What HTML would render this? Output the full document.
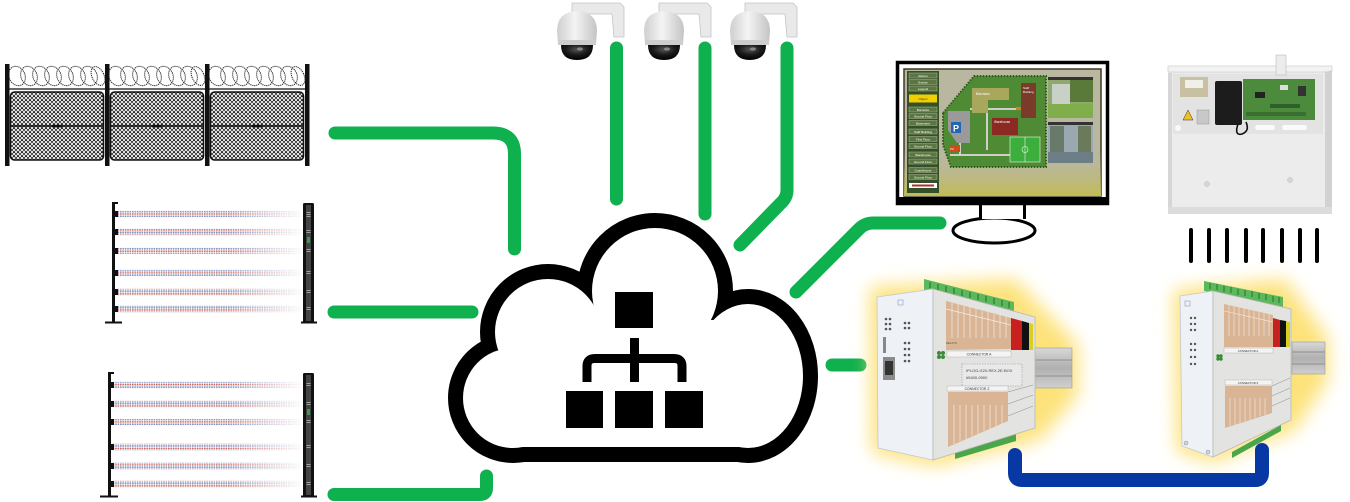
<!DOCTYPE html>
<html><head><meta charset="utf-8"><style>
html,body{margin:0;padding:0;background:#fff;}
svg{display:block;}
</style></head><body>
<svg width="1350" height="502" viewBox="0 0 1350 502" xmlns="http://www.w3.org/2000/svg" xmlns:xlink="http://www.w3.org/1999/xlink" font-family="Liberation Sans, sans-serif">
<defs>
 <pattern id="mesh" patternUnits="userSpaceOnUse" width="4" height="4">
  <path d="M0 2L2 0L4 2L2 4Z" fill="none" stroke="#111" stroke-width="0.75"/>
 </pattern>
 <pattern id="beamp" patternUnits="userSpaceOnUse" width="2.4" height="6.4">
  <rect x="0" y="0" width="1.6" height="0.9" fill="#c4574f"/>
  <rect x="0" y="1.6" width="1.6" height="0.9" fill="#5670b0"/>
  <rect x="0" y="3.2" width="1.6" height="0.9" fill="#c4574f"/>
  <rect x="0" y="4.8" width="1.6" height="0.9" fill="#5670b0"/>
 </pattern>
 <linearGradient id="fadeg1" gradientUnits="userSpaceOnUse" x1="115" y1="0" x2="305" y2="0">
  <stop offset="0" stop-color="#fff"/><stop offset="0.6" stop-color="#fff"/><stop offset="1" stop-color="#000"/>
 </linearGradient>
 <mask id="fadem" maskUnits="userSpaceOnUse" x="0" y="0" width="1350" height="502">
  <rect x="0" y="0" width="1350" height="502" fill="url(#fadeg1)"/>
 </mask>
 <linearGradient id="dome" x1="0" y1="0" x2="1" y2="0">
  <stop offset="0" stop-color="#cfcfcf"/><stop offset="0.45" stop-color="#f4f4f4"/><stop offset="1" stop-color="#c4c4c4"/>
 </linearGradient>
 <radialGradient id="lens" cx="0.5" cy="0.3" r="0.7">
  <stop offset="0" stop-color="#555"/><stop offset="0.5" stop-color="#1a1a1a"/><stop offset="1" stop-color="#000"/>
 </radialGradient>
 <linearGradient id="scrbot" x1="0" y1="0" x2="0" y2="1">
  <stop offset="0" stop-color="#b9b79f" stop-opacity="0"/><stop offset="1" stop-color="#c2bc50"/>
 </linearGradient>
 <linearGradient id="rail" x1="0" y1="0" x2="0" y2="1">
  <stop offset="0" stop-color="#d8d8d8"/><stop offset="0.5" stop-color="#b0b0b0"/><stop offset="1" stop-color="#d0d0d0"/>
 </linearGradient>
 <filter id="glow" x="-40%" y="-40%" width="180%" height="180%">
  <feGaussianBlur stdDeviation="9"/>
 </filter>
 <g id="razor" fill="none" stroke="#333" stroke-width="1.1" stroke-dasharray="1.2 0.8">
  <ellipse cx="17" cy="76" rx="8" ry="10" transform="rotate(-25 17 76)"/>
  <ellipse cx="29" cy="76" rx="8" ry="10" transform="rotate(-25 29 76)"/>
  <ellipse cx="41" cy="76" rx="8" ry="10" transform="rotate(-25 41 76)"/>
  <ellipse cx="53" cy="76" rx="8" ry="10" transform="rotate(-25 53 76)"/>
  <ellipse cx="65" cy="76" rx="8" ry="10" transform="rotate(-25 65 76)"/>
  <ellipse cx="77" cy="76" rx="8" ry="10" transform="rotate(-25 77 76)"/>
  <ellipse cx="89" cy="76" rx="8" ry="10" transform="rotate(-25 89 76)"/>
  <ellipse cx="98" cy="76" rx="6" ry="10" transform="rotate(-25 98 76)"/>
 </g>
 <g id="panel">
  <rect x="10.5" y="92" width="93" height="68" rx="4" fill="url(#mesh)" stroke="#111" stroke-width="1.6"/>
  <line x1="10.5" y1="126" x2="103.5" y2="126" stroke="#111" stroke-width="1.4"/>
  <rect x="52" y="124.8" width="10" height="2.6" fill="#111"/>
 </g>
 <g id="cam">
  <path d="M572 3 H620 L624 7 V37 H614 L612 14 H572 Z" fill="#e9e9e9" stroke="#c4c4c4" stroke-width="0.8"/>
  <path d="M557 31 Q557 12 577 11 Q597 12 597 31 L596 44 H558 Z" fill="url(#dome)"/>
  <rect x="558" y="40" width="38" height="5" fill="#cdcdcd"/>
  <path d="M561 45 Q561 60 577 60 Q593 60 593 45 Z" fill="url(#lens)"/>
  <ellipse cx="580" cy="49" rx="3" ry="1.6" fill="#9aa" opacity="0.7"/>
 </g>
</defs>

<!-- FENCE -->
<use xlink:href="#razor"/>
<use xlink:href="#razor" x="100"/>
<use xlink:href="#razor" x="200"/>
<line x1="7" y1="89" x2="307" y2="89" stroke="#111" stroke-width="1.3"/>
<use xlink:href="#panel"/>
<use xlink:href="#panel" x="100"/>
<use xlink:href="#panel" x="200"/>
<rect x="5" y="64" width="4.5" height="102" fill="#111"/>
<rect x="105" y="64" width="4.5" height="102" fill="#111"/>
<rect x="205" y="64" width="4.5" height="102" fill="#111"/>
<rect x="305" y="64" width="4.5" height="102" fill="#111"/>

<!-- BEAMS -->
<g mask="url(#fadem)">
 <rect x="117" y="210.8" width="188" height="6.4" fill="url(#beamp)"/>
 <rect x="117" y="228.8" width="188" height="6.4" fill="url(#beamp)"/>
 <rect x="117" y="247.8" width="188" height="6.4" fill="url(#beamp)"/>
 <rect x="117" y="269.8" width="188" height="6.4" fill="url(#beamp)"/>
 <rect x="117" y="288.8" width="188" height="6.4" fill="url(#beamp)"/>
 <rect x="117" y="305.8" width="188" height="6.4" fill="url(#beamp)"/>
 <rect x="112" y="381.8" width="193" height="6.4" fill="url(#beamp)"/>
 <rect x="112" y="400.8" width="193" height="6.4" fill="url(#beamp)"/>
 <rect x="112" y="418.8" width="193" height="6.4" fill="url(#beamp)"/>
 <rect x="112" y="443.8" width="193" height="6.4" fill="url(#beamp)"/>
 <rect x="112" y="462.8" width="193" height="6.4" fill="url(#beamp)"/>
 <rect x="112" y="480.8" width="193" height="6.4" fill="url(#beamp)"/>
</g>
<g fill="#111">
 <rect x="112" y="203" width="3" height="120"/>
 <rect x="112" y="202" width="6" height="2"/>
 <rect x="105" y="321.5" width="17" height="2"/>
 <rect x="113" y="211" width="5" height="6"/><rect x="113" y="229" width="5" height="6"/><rect x="113" y="248" width="5" height="6"/>
 <rect x="113" y="270" width="5" height="6"/><rect x="113" y="289" width="5" height="6"/><rect x="113" y="306" width="5" height="6"/>
 <rect x="303" y="203" width="11" height="120" rx="1.5"/>
 <rect x="301" y="321.5" width="16" height="2"/>
 <rect x="108" y="373" width="3" height="124"/>
 <rect x="108" y="372" width="6" height="2"/>
 <rect x="100" y="495.5" width="18" height="2"/>
 <rect x="109" y="382" width="5" height="6"/><rect x="109" y="401" width="5" height="6"/><rect x="109" y="419" width="5" height="6"/>
 <rect x="109" y="444" width="5" height="6"/><rect x="109" y="463" width="5" height="6"/><rect x="109" y="481" width="5" height="6"/>
 <rect x="303" y="373" width="11" height="124" rx="1.5"/>
 <rect x="301" y="495.5" width="16" height="2"/>
</g>
<g fill="#444">
 <rect x="306" y="205" width="5" height="116"/>
 <rect x="306" y="375" width="5" height="120"/>
</g>
<g fill="#aaa">
 <rect x="306.5" y="212" width="4" height="0.9"/><rect x="306.5" y="214" width="4" height="0.9"/><rect x="306.5" y="216" width="4" height="0.9"/>
 <rect x="306.5" y="230" width="4" height="0.9"/><rect x="306.5" y="232" width="4" height="0.9"/>
 <rect x="306.5" y="249" width="4" height="0.9"/><rect x="306.5" y="251" width="4" height="0.9"/>
 <rect x="306.5" y="271" width="4" height="0.9"/><rect x="306.5" y="273" width="4" height="0.9"/>
 <rect x="306.5" y="290" width="4" height="0.9"/><rect x="306.5" y="292" width="4" height="0.9"/>
 <rect x="306.5" y="307" width="4" height="0.9"/><rect x="306.5" y="309" width="4" height="0.9"/>
 <rect x="306.5" y="383" width="4" height="0.9"/><rect x="306.5" y="385" width="4" height="0.9"/>
 <rect x="306.5" y="402" width="4" height="0.9"/><rect x="306.5" y="404" width="4" height="0.9"/>
 <rect x="306.5" y="420" width="4" height="0.9"/><rect x="306.5" y="422" width="4" height="0.9"/>
 <rect x="306.5" y="445" width="4" height="0.9"/><rect x="306.5" y="447" width="4" height="0.9"/>
 <rect x="306.5" y="464" width="4" height="0.9"/><rect x="306.5" y="466" width="4" height="0.9"/>
 <rect x="306.5" y="482" width="4" height="0.9"/><rect x="306.5" y="484" width="4" height="0.9"/>
</g>
<rect x="307" y="237" width="3" height="6" fill="#3a9a4a"/>
<rect x="307" y="409" width="3" height="6" fill="#3a9a4a"/>

<!-- CAMERAS -->
<use xlink:href="#cam"/>
<use xlink:href="#cam" x="87"/>
<use xlink:href="#cam" x="173"/>

<!-- GREEN CONNECTORS -->
<g fill="none" stroke="#0fb04e" stroke-width="13" stroke-linecap="round" stroke-linejoin="round">
 <path d="M335 133 H493 Q514.5 133 514.5 154 V249"/>
 <path d="M334 312 H472"/>
 <path d="M334 494.5 H480 Q486.5 494.5 486.5 488 V476"/>
 <path d="M616.5 48 V199"/>
 <path d="M705 48 V214"/>
 <path d="M787 48 V190 Q787 197 782 202 L740 245"/>
 <path d="M796 292 L859 229 Q865 223 873 223 H940"/>
 <path d="M832 365 H860"/>
</g>

<!-- CLOUD -->
<g stroke="#000" stroke-width="30" fill="#fff">
 <circle cx="513" cy="398" r="50"/>
 <circle cx="548" cy="332" r="53"/>
 <circle cx="655" cy="291" r="63"/>
 <ellipse cx="748" cy="376" rx="55" ry="72"/>
</g>
<rect x="513" y="447" width="235" height="15" fill="#000"/>
<g fill="#fff">
 <circle cx="513" cy="398" r="50"/>
 <circle cx="548" cy="332" r="53"/>
 <circle cx="655" cy="291" r="63"/>
 <ellipse cx="748" cy="376" rx="55" ry="72"/>
 <rect x="513" y="320" width="235" height="127"/>
</g>
<g fill="#000">
 <rect x="615" y="292" width="38" height="36"/>
 <rect x="630" y="338" width="9" height="44"/>
 <rect x="566" y="391" width="37" height="37"/>
 <rect x="615" y="391" width="38" height="37"/>
 <rect x="665" y="391" width="38" height="37"/>
</g>
<path d="M587 382 V366 Q587 358.5 595 358.5 H674 Q682 358.5 682 366 V382" fill="none" stroke="#000" stroke-width="9"/>

<!-- MONITOR -->
<ellipse cx="994" cy="230.5" rx="41" ry="12.5" fill="#fff" stroke="#000" stroke-width="3"/>
<rect x="981" y="203" width="43" height="16" fill="#fff"/>
<line x1="980.5" y1="203" x2="980.5" y2="219" stroke="#000" stroke-width="3"/>
<line x1="1024.5" y1="203" x2="1024.5" y2="219" stroke="#000" stroke-width="3"/>
<rect x="897.5" y="62.5" width="210" height="141" fill="#fff" stroke="#000" stroke-width="3.5"/>
<rect x="899" y="197" width="207" height="6" fill="#000"/>
<rect x="904" y="69" width="197" height="127" fill="#b9b79f" stroke="#3c3c22" stroke-width="1.5"/>
<rect x="904" y="150" width="197" height="46" fill="url(#scrbot)"/>
<rect x="907" y="71" width="32" height="122" fill="#34502a"/>
<g fill="#5b7640" stroke="#c8d0b0" stroke-width="0.4">
 <rect x="909" y="73" width="28" height="5"/>
 <rect x="909" y="79.5" width="28" height="5"/>
 <rect x="909" y="86" width="28" height="5"/>
 <rect x="909" y="107" width="28" height="5"/>
 <rect x="909" y="113.5" width="28" height="5"/>
 <rect x="909" y="120.5" width="28" height="5"/>
 <rect x="909" y="129" width="28" height="5"/>
 <rect x="909" y="136.5" width="28" height="5"/>
 <rect x="909" y="143.5" width="28" height="5"/>
 <rect x="909" y="152" width="28" height="5"/>
 <rect x="909" y="159" width="28" height="5"/>
 <rect x="909" y="167.5" width="28" height="5"/>
 <rect x="909" y="174.5" width="28" height="5"/>
</g>
<rect x="909" y="94.5" width="28" height="8" fill="#f2d000"/>
<rect x="909" y="183" width="28" height="5" fill="#fff"/>
<rect x="912" y="184.5" width="22" height="2" fill="#b03030"/>
<g font-size="3.1" fill="#fff" text-anchor="middle">
 <text x="923" y="76.9">Alarms</text>
 <text x="923" y="83.4">Events</text>
 <text x="923" y="89.9">Legend</text>
 <text x="923" y="100" fill="#333">Object</text>
 <text x="923" y="110.9">Barracks</text>
 <text x="923" y="117.4">Ground Floor</text>
 <text x="923" y="124.4">Basement</text>
 <text x="923" y="132.9">Staff Building</text>
 <text x="923" y="140.4">First Floor</text>
 <text x="923" y="147.4">Ground Floor</text>
 <text x="923" y="155.9">Warehouse</text>
 <text x="923" y="162.9">Ground Floor</text>
 <text x="923" y="171.4">Guardhouse</text>
 <text x="923" y="178.4">Ground Floor</text>
</g>
<polygon points="943,113 974,76 1046,76 1046,167 951,167 943,145" fill="#4f8a34" stroke="#2e5a1e" stroke-width="2" stroke-dasharray="1.5 1.5"/>
<polygon points="948,111 970,111 970,143 957,143 948,130" fill="#9a9a9a"/>
<g stroke="#cfcfc6" stroke-width="2" fill="none">
 <path d="M970 109 H1030"/><path d="M987 109 V150"/><path d="M950 155 H1010"/><path d="M1030 100 V116"/><path d="M960 143 V155"/>
</g>
<path d="M972 88 H1009 V100 H988 V113 H972 Z" fill="#a8a75c"/>
<text x="976" y="95" font-size="3.5" fill="#fff">Barracks</text>
<rect x="1021" y="83" width="15" height="35" fill="#7a3b2b"/>
<text x="1023" y="89" font-size="3" fill="#fff">Staff</text>
<text x="1023" y="93" font-size="3" fill="#fff">Building</text>
<rect x="992" y="118" width="26" height="17" fill="#8b2a22"/>
<text x="994" y="123" font-size="3.2" fill="#fff">Warehouse</text>
<rect x="1016" y="107" width="5" height="3" fill="#e07a20"/>
<rect x="951" y="122" width="10" height="11" fill="#2466b0"/>
<text x="956" y="131.5" font-size="9" font-weight="bold" fill="#fff" text-anchor="middle">P</text>
<rect x="949" y="145" width="11" height="7" fill="#d24a1c"/>
<text x="950" y="150" font-size="3" fill="#fff">PC</text>
<rect x="1010" y="137" width="30" height="25" fill="#3cae3c" stroke="#e8f8e8" stroke-width="0.6"/>
<line x1="1025" y1="137" x2="1025" y2="162" stroke="#e8f8e8" stroke-width="0.6"/>
<circle cx="1025" cy="149.5" r="3" fill="none" stroke="#e8f8e8" stroke-width="0.6"/>
<rect x="1048" y="77" width="45" height="41" fill="#8ea870"/>
<rect x="1048" y="77" width="45" height="3" fill="#333"/>
<rect x="1052" y="84" width="18" height="20" fill="#c8d0c8"/>
<rect x="1070" y="80" width="23" height="22" fill="#5a7a3a"/>
<rect x="1048" y="104" width="45" height="14" fill="#7fae4a"/>
<rect x="1048" y="122" width="45" height="41" fill="#9aa8b2"/>
<rect x="1048" y="122" width="45" height="3" fill="#333"/>
<rect x="1050" y="126" width="14" height="30" fill="#6a7a6a"/>
<rect x="1078" y="126" width="13" height="30" fill="#6a7a5a"/>
<rect x="1048" y="152" width="45" height="11" fill="#6e7e86"/>

<!-- CONTROLLER BOX -->
<rect x="1168" y="67" width="158" height="147" fill="#ececec"/>
<rect x="1173" y="74" width="150" height="60" fill="#e3e3e3"/>
<rect x="1168" y="73" width="4" height="135" fill="#d6d6d6"/>
<rect x="1168" y="66" width="164" height="6" fill="#f3f3f3" stroke="#c8c8c8" stroke-width="0.6"/>
<polygon points="1325,72 1332,70 1332,212 1325,208" fill="#d2d2d2"/>
<rect x="1168" y="207" width="164" height="7" fill="#dcdcdc"/>
<rect x="1276" y="55" width="10" height="20" fill="#ececec" stroke="#bbb" stroke-width="0.6"/>
<rect x="1180" y="77" width="28" height="20" fill="#c8c0a0"/>
<rect x="1185" y="80" width="18" height="8" fill="#f0f0e8"/>
<rect x="1215" y="81" width="27" height="44" rx="2" fill="#1c1c1c"/>
<rect x="1243" y="79" width="72" height="41" fill="#4b8b3b"/>
<rect x="1255" y="92" width="10" height="6" fill="#222"/>
<rect x="1280" y="85" width="8" height="5" fill="#ddd"/>
<rect x="1298" y="86" width="8" height="10" fill="#333"/>
<rect x="1270" y="104" width="30" height="4" fill="#2f5f2a"/>
<rect x="1246" y="112" width="60" height="4" fill="#3a6e32"/>
<path d="M1238 124 Q1234 136 1242 134 Q1250 131 1246 122" stroke="#111" stroke-width="1.6" fill="none"/>
<polygon points="1188,110 1183,120 1193,120" fill="#f0c020" stroke="#333" stroke-width="0.5"/>
<rect x="1197" y="110" width="12" height="14" fill="#c8c8c8" stroke="#999" stroke-width="0.5"/>
<circle cx="1178" cy="128" r="3" fill="#fafafa"/>
<rect x="1255" y="125" width="20" height="5" rx="2.5" fill="#fafafa"/>
<rect x="1282" y="125" width="25" height="5" rx="2.5" fill="#fafafa"/>
<circle cx="1207" cy="184" r="2.5" fill="#d6d6d6" stroke="#bbb" stroke-width="0.5"/>
<circle cx="1290" cy="180" r="2.5" fill="#d6d6d6" stroke="#bbb" stroke-width="0.5"/>

<!-- BLACK TICKS -->
<g stroke="#000" stroke-width="4" stroke-linecap="round">
 <line x1="1191" y1="230" x2="1191" y2="261"/>
 <line x1="1209" y1="230" x2="1209" y2="261"/>
 <line x1="1227" y1="230" x2="1227" y2="261"/>
 <line x1="1246" y1="230" x2="1246" y2="261"/>
 <line x1="1263" y1="230" x2="1263" y2="261"/>
 <line x1="1282" y1="230" x2="1282" y2="261"/>
 <line x1="1300" y1="230" x2="1300" y2="261"/>
 <line x1="1317" y1="230" x2="1317" y2="261"/>
</g>

<!-- DEVICE GLOWS -->
<polygon points="870,287 1015,279 1078,345 1078,395 1040,440 935,466 872,453" fill="#fde27a" filter="url(#glow)"/>
<polygon points="1174,290 1285,279 1328,338 1328,380 1295,430 1215,462 1177,452" fill="#fde27a" filter="url(#glow)"/>

<!-- DEVICE 1 -->
<rect x="1030" y="348" width="42" height="40" fill="url(#rail)" stroke="#999" stroke-width="0.6"/>
<line x1="1035" y1="360" x2="1072" y2="360" stroke="#8e8e8e" stroke-width="1"/>
<line x1="1035" y1="376" x2="1072" y2="376" stroke="#8e8e8e" stroke-width="1"/>
<polygon points="924,279 1014,302 1014,313 924,290" fill="#5cb85c"/>
<g stroke="#2d7a2d" stroke-width="1.2">
 <line x1="930" y1="282" x2="930" y2="288"/><line x1="938" y1="284" x2="938" y2="290"/><line x1="946" y1="286" x2="946" y2="292"/>
 <line x1="954" y1="288" x2="954" y2="294"/><line x1="962" y1="290" x2="962" y2="296"/><line x1="970" y1="292" x2="970" y2="298"/>
 <line x1="978" y1="294" x2="978" y2="300"/><line x1="986" y1="296" x2="986" y2="302"/><line x1="994" y1="298" x2="994" y2="304"/>
 <line x1="1002" y1="300" x2="1002" y2="306"/><line x1="1009" y1="302" x2="1009" y2="308"/>
</g>
<polygon points="955,452 1016,434 1016,441 955,459" fill="#4aa64a"/>
<polygon points="877,297 933,289 933,460 878,448" fill="#eef1f6" stroke="#c4c9d0" stroke-width="0.8"/>
<polygon points="933,289 1035,317 1035,428 933,460" fill="#e3e3e1" stroke="#b8b8b8" stroke-width="0.8"/>
<polygon points="946,301 1011,318 1011,349 946,350" fill="#d9b596"/>
<g stroke="#f4ece4" stroke-width="0.7">
 <line x1="946" y1="309" x2="1011" y2="325"/>
 <line x1="952" y1="303" x2="952" y2="338"/><line x1="958" y1="304" x2="958" y2="338"/><line x1="964" y1="306" x2="964" y2="338"/>
 <line x1="970" y1="307" x2="970" y2="338"/><line x1="976" y1="309" x2="976" y2="338"/><line x1="982" y1="311" x2="982" y2="338"/>
 <line x1="988" y1="312" x2="988" y2="338"/><line x1="994" y1="314" x2="994" y2="338"/><line x1="1000" y1="315" x2="1000" y2="338"/>
 <line x1="1006" y1="317" x2="1006" y2="338"/>
</g>
<polygon points="1011,318 1022,321 1022,350 1011,350" fill="#c8201e"/>
<polygon points="1022,321 1029,323 1029,350 1022,350" fill="#111"/>
<polygon points="1029,323 1033,324 1033,350 1029,350" fill="#d8d020"/>
<rect x="947" y="351" width="64" height="6" fill="#f4f4f4" stroke="#aaa" stroke-width="0.4"/>
<text x="979" y="355.6" font-size="3.4" fill="#333" text-anchor="middle">CONNECTOR A</text>
<text x="946" y="344" font-size="2.8" fill="#553">RELAYS</text>
<rect x="962" y="364" width="60" height="22" fill="#e9e9e9" stroke="#999" stroke-width="0.6" stroke-dasharray="1.5 1"/>
<text x="966" y="372" font-size="4" fill="#444">IPLOG-G20-REX.2E-BOX</text>
<text x="966" y="379" font-size="4" fill="#444">#5400-0900</text>
<rect x="947" y="386" width="61" height="5" fill="#f4f4f4" stroke="#aaa" stroke-width="0.4"/>
<text x="977" y="390" font-size="3.4" fill="#333" text-anchor="middle">CONNECTOR Z</text>
<polygon points="948,392 1008,392 1008,421 948,447" fill="#d9b596"/>
<g stroke="#f4ece4" stroke-width="0.7">
 <line x1="954" y1="405" x2="954" y2="444"/><line x1="960" y1="405" x2="960" y2="441"/><line x1="966" y1="405" x2="966" y2="439"/>
 <line x1="972" y1="405" x2="972" y2="436"/><line x1="978" y1="405" x2="978" y2="434"/><line x1="984" y1="405" x2="984" y2="431"/>
 <line x1="990" y1="405" x2="990" y2="429"/><line x1="996" y1="405" x2="996" y2="426"/><line x1="1002" y1="405" x2="1002" y2="424"/>
</g>
<path d="M1008 392 L1033 385 M1008 404 L1033 395 M1008 416 L1033 406" stroke="#888" stroke-width="0.5"/>
<g fill="#3a8a3a"><circle cx="939" cy="353" r="2"/><circle cx="943" cy="353" r="2"/><circle cx="939" cy="357" r="2"/><circle cx="943" cy="357" r="2"/></g>
<g fill="#555">
 <circle cx="886" cy="319" r="1.3"/><circle cx="890" cy="319" r="1.3"/>
 <circle cx="886" cy="324" r="1.3"/><circle cx="890" cy="324" r="1.3"/>
 <circle cx="886" cy="329" r="1.3"/><circle cx="890" cy="329" r="1.3"/>
 <circle cx="905" cy="323" r="1.3"/><circle cx="909" cy="323" r="1.3"/>
 <circle cx="905" cy="328" r="1.3"/><circle cx="909" cy="328" r="1.3"/>
 <circle cx="905" cy="343" r="1.3"/><circle cx="909" cy="343" r="1.3"/>
 <circle cx="905" cy="349" r="1.3"/><circle cx="909" cy="349" r="1.3"/>
 <circle cx="905" cy="355" r="1.3"/><circle cx="909" cy="355" r="1.3"/>
 <circle cx="905" cy="361" r="1.3"/><circle cx="909" cy="361" r="1.3"/>
</g>
<rect x="883" y="337" width="3" height="16" fill="#888"/>
<rect x="883" y="357" width="12" height="23" fill="#8a8a8a"/>
<rect x="885" y="361" width="8" height="14" fill="#333"/>
<rect x="898" y="300" width="5" height="5" fill="none" stroke="#8aa0c8" stroke-width="0.6"/>

<!-- DEVICE 2 -->
<rect x="1292" y="342" width="33" height="32" fill="url(#rail)" stroke="#999" stroke-width="0.6"/>
<line x1="1292" y1="352" x2="1325" y2="352" stroke="#8e8e8e" stroke-width="1"/>
<line x1="1292" y1="364" x2="1325" y2="364" stroke="#8e8e8e" stroke-width="1"/>
<polygon points="1204,281 1283,297 1283,307 1204,291" fill="#5cb85c"/>
<g stroke="#2d7a2d" stroke-width="1.1">
 <line x1="1210" y1="283" x2="1210" y2="289"/><line x1="1217" y1="284" x2="1217" y2="290"/><line x1="1224" y1="286" x2="1224" y2="292"/>
 <line x1="1231" y1="287" x2="1231" y2="293"/><line x1="1238" y1="289" x2="1238" y2="295"/><line x1="1245" y1="290" x2="1245" y2="296"/>
 <line x1="1252" y1="291" x2="1252" y2="297"/><line x1="1259" y1="293" x2="1259" y2="299"/><line x1="1266" y1="294" x2="1266" y2="300"/>
 <line x1="1273" y1="296" x2="1273" y2="302"/><line x1="1279" y1="297" x2="1279" y2="303"/>
</g>
<polygon points="1232,452 1281,425 1281,431 1232,458" fill="#4aa64a"/>
<polygon points="1180,296 1213,291 1213,457 1182,446" fill="#eef1f6" stroke="#c4c9d0" stroke-width="0.8"/>
<polygon points="1213,291 1291,309 1291,420 1213,457" fill="#e3e3e1" stroke="#b8b8b8" stroke-width="0.8"/>
<polygon points="1224,304 1273,315 1273,347 1224,347" fill="#d9b596"/>
<g stroke="#f4ece4" stroke-width="0.6">
 <line x1="1224" y1="311" x2="1273" y2="322"/>
 <line x1="1229" y1="305" x2="1229" y2="336"/><line x1="1234" y1="306" x2="1234" y2="336"/><line x1="1239" y1="307" x2="1239" y2="336"/>
 <line x1="1244" y1="308" x2="1244" y2="336"/><line x1="1249" y1="309" x2="1249" y2="336"/><line x1="1254" y1="311" x2="1254" y2="336"/>
 <line x1="1259" y1="312" x2="1259" y2="336"/><line x1="1264" y1="313" x2="1264" y2="336"/><line x1="1269" y1="314" x2="1269" y2="336"/>
</g>
<polygon points="1273,318 1280,320 1280,347 1273,347" fill="#c8201e"/>
<polygon points="1280,320 1286,321 1286,347 1280,347" fill="#111"/>
<polygon points="1286,321 1290,322 1290,347 1286,347" fill="#d8d020"/>
<rect x="1224" y="348" width="49" height="5" fill="#f4f4f4" stroke="#aaa" stroke-width="0.4"/>
<text x="1248" y="351.8" font-size="2.8" fill="#333" text-anchor="middle">CONNECTOR A</text>
<rect x="1225" y="380" width="47" height="5" fill="#f4f4f4" stroke="#aaa" stroke-width="0.4"/>
<text x="1248" y="383.8" font-size="2.8" fill="#333" text-anchor="middle">CONNECTOR Z</text>
<polygon points="1225,386 1272,386 1272,413 1225,428" fill="#d9b596"/>
<g stroke="#f4ece4" stroke-width="0.6">
 <line x1="1230" y1="398" x2="1230" y2="426"/><line x1="1235" y1="398" x2="1235" y2="425"/><line x1="1240" y1="398" x2="1240" y2="423"/>
 <line x1="1245" y1="398" x2="1245" y2="421"/><line x1="1250" y1="398" x2="1250" y2="420"/><line x1="1255" y1="398" x2="1255" y2="418"/>
 <line x1="1260" y1="398" x2="1260" y2="416"/><line x1="1265" y1="398" x2="1265" y2="415"/>
</g>
<path d="M1272 386 L1290 378 M1272 396 L1290 388 M1272 406 L1290 398" stroke="#888" stroke-width="0.5"/>
<g fill="#3a8a3a"><circle cx="1218" cy="356" r="1.7"/><circle cx="1221" cy="356" r="1.7"/><circle cx="1218" cy="359" r="1.7"/><circle cx="1221" cy="359" r="1.7"/></g>
<g fill="#555">
 <circle cx="1191" cy="318" r="1.2"/><circle cx="1195" cy="318" r="1.2"/>
 <circle cx="1191" cy="324" r="1.2"/><circle cx="1195" cy="324" r="1.2"/>
 <circle cx="1191" cy="330" r="1.2"/><circle cx="1195" cy="330" r="1.2"/>
 <circle cx="1191" cy="344" r="1.2"/><circle cx="1195" cy="344" r="1.2"/>
 <circle cx="1191" cy="350" r="1.2"/><circle cx="1195" cy="350" r="1.2"/>
 <circle cx="1191" cy="357" r="1.2"/><circle cx="1195" cy="357" r="1.2"/>
 <circle cx="1191" cy="364" r="1.2"/><circle cx="1195" cy="364" r="1.2"/>
</g>
<rect x="1185" y="301" width="5" height="5" fill="none" stroke="#8aa0c8" stroke-width="0.6"/>
<circle cx="1186" cy="443" r="2" fill="#cfd6df" stroke="#8a96a8" stroke-width="0.5"/>
<circle cx="1208" cy="452" r="2" fill="#cfd6df" stroke="#8a96a8" stroke-width="0.5"/>

<!-- BLUE LINK -->
<path d="M1015 455 V473 Q1015 480 1022 480 H1255 Q1262 480 1262 473 V450" fill="none" stroke="#0838a3" stroke-width="14" stroke-linecap="round" stroke-linejoin="round"/>
</svg>
</body></html>
